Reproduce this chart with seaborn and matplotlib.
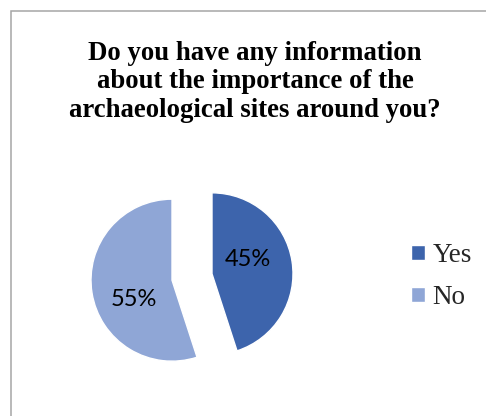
import numpy as np
import matplotlib
matplotlib.use("Agg")
import matplotlib.pyplot as plt
import seaborn as sns
from matplotlib.patches import Rectangle

categories = ["Yes", "No"]
shares = [45, 55]
colors = ["#3D64AC", "#8FA6D6"]
title = "Do you have any information\nabout the importance of the\narchaeological sites around you?"

sns.set_theme(style="white")
palette = sns.color_palette(colors)

W, H = 486, 416
fig = plt.figure(figsize=(W / 100, H / 100), dpi=100)
ax = fig.add_axes([0, 0, 1, 1])

# chart area border (runs off the right and bottom edges)
fig.patches.append(Rectangle((11 / W, -0.1), 1.2, 1 - 10.5 / H + 0.1,
                             transform=fig.transFigure, fill=False,
                             edgecolor="#A6A6A6", linewidth=1.1))

R = 81
wedges, texts, autotexts = ax.pie(
    shares, colors=palette, startangle=90, counterclock=False,
    explode=[0.25 * R, 0.25 * R], radius=R, center=(192, H - 277),
    autopct="%d%%", pctdistance=0.5, frame=True,
    textprops=dict(fontsize=17, family="Lato", color="black"))
ax.set_xlim(0, W)
ax.set_ylim(0, H)
ax.set_axis_off()

for w, t in zip(wedges, autotexts):
    ang = np.deg2rad((w.theta1 + w.theta2) / 2 + 15)
    cx, cy = w.center
    d = 0.5 * R
    t.set_position((cx + d * np.cos(ang) - 1.5, cy + d * np.sin(ang) - 2.5))

fig.text(255 / W, 1 - 41 / H, title, ha="center", va="top",
         fontsize=19.3, fontweight="bold", family="Liberation Serif",
         linespacing=1.18, color="black")

leg = ax.legend(wedges, categories, loc="center left",
                bbox_to_anchor=(411 / W, 1 - 276.5 / H), bbox_transform=fig.transFigure,
                frameon=False, borderpad=0, borderaxespad=0,
                handlelength=0.5, handleheight=0.5,
                handletextpad=0.3, labelspacing=0.63,
                prop=dict(family="Liberation Serif", size=19.5))

fig.savefig("out.png", dpi=100)
